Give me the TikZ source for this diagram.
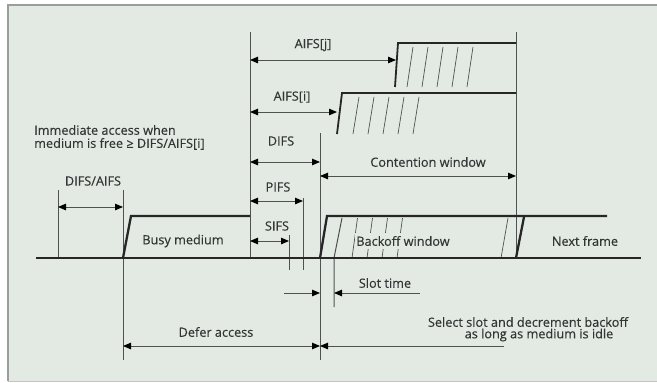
\documentclass[tikz,border=0pt]{standalone}
\usepackage{fontspec}
\setmainfont{Open Sans}
\newfontface\lblface{Open Sans}[FakeBold=0.3]
\usetikzlibrary{arrows.meta}
\definecolor{panel}{HTML}{E3EAE4}
\definecolor{rim}{HTML}{9A9E9B}
\definecolor{ink}{HTML}{333635}
\definecolor{wire}{HTML}{4E5250}
\begin{document}
\begin{tikzpicture}[x=1pt,y=-1pt,
  lbl/.style={font=\lblface\fontsize{12.7}{14}\selectfont, text=ink, inner sep=0pt},
  edge/.style={line width=2.3pt, draw=black!85, line join=miter},
  stepline/.style={line width=1.8pt, draw=black!85, line join=miter},
  guide/.style={line width=1pt, draw=wire},
  hatch/.style={line width=0.7pt, draw=wire},
  span/.style={guide, {Triangle[length=8pt,width=6.5pt,color=black]}-{Triangle[length=8pt,width=6.5pt,color=black]}},
  toend/.style={guide, -{Triangle[length=8pt,width=6.5pt,color=black]}},
]
% panel
\useasboundingbox (0,0) rectangle (657,383);
\fill[white] (0,0) rectangle (657,383);
\fill[panel] (8,5) rectangle (657,381);
\draw[rim, line width=2pt] (8,381) -- (8,5) -- (657,5);
\draw[rim!60, line width=0.8pt] (8,381) -- (657,381);

% key points
\coordinate (base0) at (36,258);
\coordinate (base1) at (641,258);
\coordinate (busyA) at (123,258);
\coordinate (busyB) at (131,216);
\coordinate (busyC) at (250,216);
\coordinate (tA) at (250,32);  \coordinate (tAb) at (250,258);
\coordinate (tB) at (320,133); \coordinate (tBb) at (320,360);
\coordinate (tC) at (516,32);  \coordinate (tCb) at (516,258);
\coordinate (dL) at (58,190);  \coordinate (dLb) at (58,258);
\coordinate (dR) at (123,190); \coordinate (dRb) at (123,360);
\coordinate (pT) at (303,198); \coordinate (pB) at (303,270);
\coordinate (sT) at (289,235); \coordinate (sB) at (289,270);

% vertical reference lines
\draw[guide] (tA) -- (tAb);
\draw[guide] (tB) -- (tBb);
\draw[guide] (tC) -- (tCb);
\draw[guide] (dL) -- (dLb);
\draw[guide] (dR) -- (dRb);
\draw[guide] (pT) -- (pB);
\draw[guide] (sT) -- (sB);

% busy medium frame
\draw[edge] (busyA) -- (busyB) -- (busyC);

% AIFS[j] contention steps
\coordinate (jA) at (395,87); \coordinate (jB) at (398,43); \coordinate (jC) at (516,43);
\foreach \x in {407,422,437,452,467} \draw[hatch] (\x,87) -- (\x+6,47);
\draw[stepline] (jA) -- (jB) -- (jC);

% AIFS[i] contention steps
\coordinate (iA) at (337,134); \coordinate (iB) at (342,93); \coordinate (iC) at (516,93);
\foreach \x in {353,368,383,398,413} \draw[hatch] (\x,134) -- (\x+6,97);
\draw[stepline] (iA) -- (iB) -- (iC);

% backoff window
\coordinate (kA) at (320,258); \coordinate (kB) at (327,216); \coordinate (kC) at (607,216);
\coordinate (nA) at (516,258); \coordinate (nB) at (524,217);
\coordinate (hT) at (342,218); \coordinate (hB) at (334,258); \coordinate (hE) at (334,307);
\foreach \x in {352,367,382,397} \draw[hatch] (\x,258) -- (\x+5.5,218);
\draw[hatch] (508,218) -- (501,258);
\draw[guide] (hT) -- (hB) -- (hE);
\draw[edge] (kA) -- (kB) -- (kC);
\draw[edge] (nA) -- (nB);
\draw[edge] (base0) -- (base1);

% interval arrows
\coordinate (aj0) at (250,60);  \coordinate (aj1) at (396,60);
\coordinate (ai0) at (250,112); \coordinate (ai1) at (337,112);
\coordinate (df0) at (250,162); \coordinate (df1) at (320,162);
\coordinate (cw0) at (320,176); \coordinate (cw1) at (516,176);
\coordinate (pf0) at (250,201); \coordinate (pf1) at (303,201);
\coordinate (sf0) at (250,241); \coordinate (sf1) at (289,241);
\coordinate (da0) at (58,207);  \coordinate (da1) at (123,207);
\coordinate (st0) at (284,293); \coordinate (st1) at (320,293);
\coordinate (st2) at (420,293); \coordinate (st3) at (334,293);
\coordinate (fa0) at (123,346); \coordinate (fa1) at (320,346);
\coordinate (sl0) at (504,346); \coordinate (sl1) at (320,346);

\draw[span] (aj0) -- (aj1);
\draw[span] (ai0) -- (ai1);
\draw[span] (df0) -- (df1);
\draw[span] (cw0) -- (cw1);
\draw[span] (pf0) -- (pf1);
\draw[span] (sf0) -- (sf1);
\draw[span] (da0) -- (da1);
\draw[toend] (st0) -- (st1);
\draw[toend] (st2) -- (st3);
\draw[span] (fa0) -- (fa1);
\draw[toend] (sl0) -- (sl1);

% labels
\node[lbl] (lj) at (313,45) {AIFS[j]};
\node[lbl] (li) at (292,97) {AIFS[i]};
\node[lbl] (ldifs) at (281,141) {DIFS};
\node[lbl] (lcw) at (428,162) {Contention window};
\node[lbl] (lpifs) at (278,187) {PIFS};
\node[lbl] (lsifs) at (277,226) {SIFS};
\node[lbl] (lda) at (93,181) {DIFS/AIFS};
\node[lbl, anchor=west] (limm1) at (34,130) {Immediate access when};
\node[lbl, anchor=west] (limm2) at (34,144) {medium is free ≥ DIFS/AIFS[i]};
\node[lbl] (lbusy) at (183,241) {Busy medium};
\node[lbl, fill=panel, inner ysep=3pt, inner xsep=1pt] (lback) at (403,241) {Backoff window};
\node[lbl] (lnext) at (585,241) {Next frame};
\node[lbl] (lslot) at (385,283) {Slot time};
\node[lbl] (ldefer) at (216,332) {Defer access};
\node[lbl] (lsel1) at (528,322) {Select slot and decrement backoff};
\node[lbl] (lsel2) at (539,335) {as long as medium is idle};
\end{tikzpicture}
\end{document}
